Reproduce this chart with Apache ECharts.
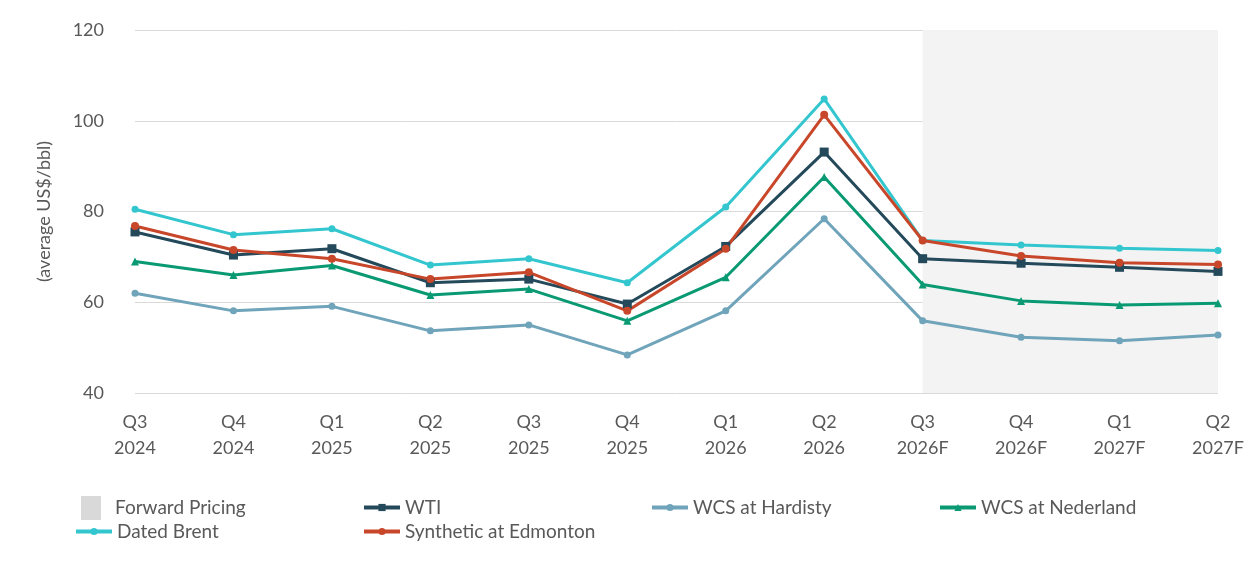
<!DOCTYPE html>
<html>
<head>
<meta charset="utf-8">
<script src="https://cdn.jsdelivr.net/npm/echarts@6/dist/echarts.min.js"></script>
<style>
    html, body { margin: 0; padding: 0; background: #fff; }
    #chart { width: 1248px; height: 582px; }
</style>
</head>
<body>
<div id="chart"></div>
<script>
var quarters = ['Q3\n2024', 'Q4\n2024', 'Q1\n2025', 'Q2\n2025', 'Q3\n2025', 'Q4\n2025',
    'Q1\n2026', 'Q2\n2026', 'Q3\n2026F', 'Q4\n2026F', 'Q1\n2027F', 'Q2\n2027F'];
var forwardStart = 'Q3\n2026F';
var forwardEnd = 'Q2\n2027F';

var wti = [75.5, 70.4, 71.8, 64.3, 65.1, 59.6, 72.3, 93.1, 69.6, 68.6, 67.7, 66.8];
var wcsHardisty = [62.0, 58.1, 59.1, 53.7, 55.0, 48.4, 58.1, 78.4, 55.9, 52.3, 51.5, 52.8];
var wcsNederland = [69.0, 66.0, 68.1, 61.6, 62.9, 55.9, 65.5, 87.6, 63.9, 60.3, 59.4, 59.8];
var datedBrent = [80.5, 74.9, 76.2, 68.2, 69.6, 64.3, 81.0, 104.8, 73.6, 72.6, 71.9, 71.4];
var synthetic = [76.8, 71.5, 69.6, 65.1, 66.6, 58.1, 71.8, 101.3, 73.6, 70.2, 68.7, 68.3];

var yTicks = [40, 60, 80, 100, 120];

var textColor = '#595959';
var fontFamily = 'Lato, "Open Sans", sans-serif';

function lineSeries(name, data, color, symbol, size) {
    return {
        name: name,
        type: 'line',
        data: data,
        symbol: symbol,
        symbolSize: size,
        lineStyle: { color: color, width: 3 },
        itemStyle: { color: color },
        emphasis: { disabled: true }
    };
}

// one legend per entry so the columns line up like the original
function legendItem(name, left, top) {
    return {
        left: left, top: top,
        itemWidth: 36, itemHeight: 9,
        selectedMode: false,
        lineStyle: { width: 4 },
        textStyle: { color: textColor, fontSize: 19, fontFamily: fontFamily },
        data: [name]
    };
}

var myChart = echarts.init(document.getElementById('chart'));
var option = {
    animation: false,
    textStyle: { fontFamily: fontFamily },
    grid: { left: 135, right: 30, top: 30, bottom: 189, containLabel: false },
    legend: [
        {
            left: 76, top: 491, itemWidth: 38, itemHeight: 24,
            selectedMode: false,
            textStyle: { color: textColor, fontSize: 19, fontFamily: fontFamily },
            data: [{ name: 'Forward Pricing', icon: 'path://M0,0 L20,0 L20,24 L0,24 Z', itemStyle: { color: '#D9D9D9' } }]
        },
        legendItem('WTI', 357, 493),
        legendItem('WCS at Hardisty', 645, 493),
        legendItem('WCS at Nederland', 933, 493),
        legendItem('Dated Brent', 69, 517),
        legendItem('Synthetic at Edmonton', 357, 517)
    ],
    xAxis: {
        type: 'category',
        data: quarters,
        boundaryGap: false,
        axisLine: { show: false },
        axisTick: { show: false },
        axisLabel: { color: textColor, fontSize: 18, lineHeight: 26, margin: 16, interval: 0 }
    },
    yAxis: {
        type: 'value',
        min: yTicks[0],
        max: yTicks[yTicks.length - 1],
        interval: 20,
        name: '(average US$/bbl)',
        nameLocation: 'middle',
        nameGap: 82,
        nameTextStyle: { color: textColor, fontSize: 18 },
        axisLine: { show: false },
        axisTick: { show: false },
        axisLabel: { color: textColor, fontSize: 18, margin: 31 },
        splitLine: { lineStyle: { color: '#D9D9D9', width: 1 } }
    },
    series: [
        {
            name: 'Forward Pricing',
            type: 'line',
            data: [],
            itemStyle: { color: '#D9D9D9' },
            markArea: {
                silent: true,
                itemStyle: { color: '#F3F3F3' },
                data: [[{ xAxis: forwardStart }, { xAxis: forwardEnd }]]
            }
        },
        lineSeries('WTI', wti, '#24495A', 'rect', 9),
        lineSeries('WCS at Hardisty', wcsHardisty, '#6FA4BA', 'circle', 7),
        lineSeries('WCS at Nederland', wcsNederland, '#0A9A73', 'triangle', 8),
        lineSeries('Dated Brent', datedBrent, '#33C6CF', 'circle', 7),
        lineSeries('Synthetic at Edmonton', synthetic, '#C8472A', 'circle', 8)
    ]
};
myChart.setOption(option);
window.addEventListener('resize', function () {
    myChart.resize();
});
</script>
</body>
</html>
